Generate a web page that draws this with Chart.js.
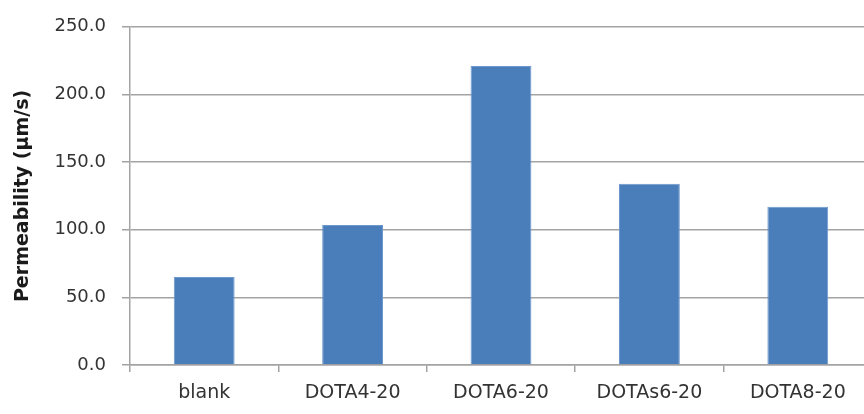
<!DOCTYPE html>
<html>
<head>
<meta charset="utf-8">
<script src="https://cdn.jsdelivr.net/npm/chart.js@4"></script>
<style>
  body { margin: 0; overflow: hidden; background: #fff; }
  #wrap { width: 872px; height: 414px; }
</style>
</head>
<body>
<div id="wrap"><canvas id="myChart"></canvas></div>
<script>
// Datos
let categorias = ['blank', 'DOTA4-20', 'DOTA6-20', 'DOTAs6-20', 'DOTA8-20'];
let permeabilidad = [65, 103.5, 221, 134, 117];
let ticksY = [0, 50, 100, 150, 200, 250];

const gris = '#a3a3a3';
const texto = '#333333';

const ctx = document.getElementById('myChart').getContext('2d');
const myChart = new Chart(ctx, {
    type: 'bar',
    data: {
        labels: categorias,
        datasets: [{
            label: 'Permeability',
            data: permeabilidad,
            backgroundColor: '#4a7ebb',
            borderColor: '#6d98cc',
            borderWidth: 1,
            categoryPercentage: 1,
            barPercentage: 0.41
        }]
    },
    options: {
        responsive: true,
        maintainAspectRatio: false,
        animation: false,
        layout: { padding: { top: 25, left: 2, right: 0, bottom: 0 } },
        plugins: {
            legend: { display: false },
            tooltip: { enabled: false }
        },
        scales: {
            x: {
                offset: true,
                grid: {
                    offset: true,
                    drawOnChartArea: false,
                    drawTicks: true,
                    tickLength: 7,
                    color: gris,
                    lineWidth: 1.5
                },
                border: { color: gris, width: 1.5 },
                ticks: {
                    color: texto,
                    padding: 10,
                    font: { family: 'DejaVu Sans', size: 19 }
                },
                afterFit: (scale) => { scale.height = 49; }
            },
            y: {
                min: 0,
                max: 250,
                afterBuildTicks: (scale) => {
                    scale.ticks = ticksY.map(v => ({ value: v }));
                },
                grid: {
                    color: gris,
                    lineWidth: 1.5,
                    drawTicks: true,
                    tickLength: 8
                },
                border: { color: gris, width: 1.5 },
                ticks: {
                    color: texto,
                    padding: 16,
                    font: { family: 'DejaVu Sans', size: 18 },
                    callback: (v) => Number(v).toFixed(1)
                },
                title: {
                    display: true,
                    text: 'Permeability (μm/s)',
                    color: '#1a1a1a',
                    padding: { top: 10, bottom: 0 },
                    font: { family: 'DejaVu Sans', size: 19, weight: 'bold' }
                },
                afterFit: (scale) => { scale.width = 128; }
            }
        }
    }
});
</script>
</body>
</html>
